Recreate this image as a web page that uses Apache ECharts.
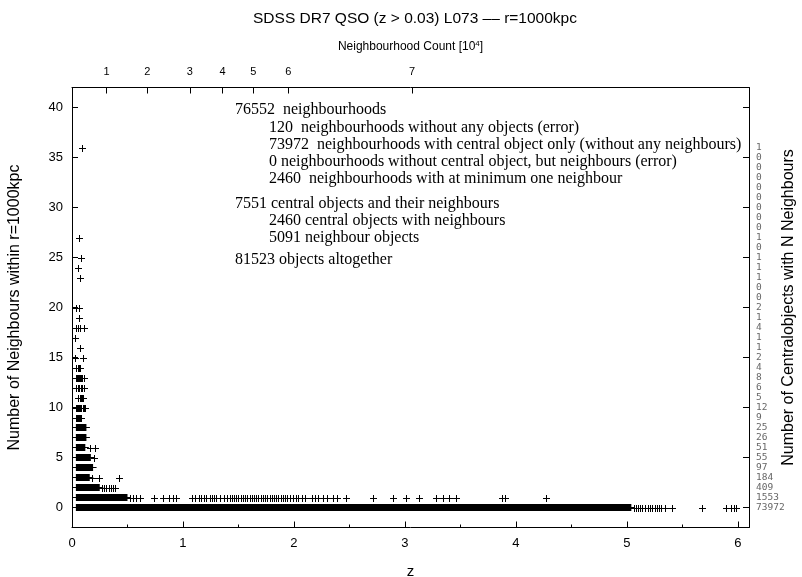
<!DOCTYPE html>
<html>
<head>
<meta charset="utf-8">
<script src="https://cdn.jsdelivr.net/npm/echarts@6/dist/echarts.min.js"></script>
<style>
  html, body { margin: 0; padding: 0; background: #fff; }
  #chart { width: 802px; height: 577px; }
</style>
</head>
<body>
<div id="chart"></div>
<script>
// Number of central objects having N neighbours, index = N
const levelCounts = [73972, 1553, 409, 184, 97, 55, 51, 26, 25, 9, 12, 5, 6, 8, 4, 2, 1, 1, 4, 1, 2, 0, 0, 1, 1, 1, 0, 1, 0, 0, 0, 0, 0, 0, 0, 0, 1];

// Redshift where the cumulative neighbourhood count reaches n * 10^4
const countTickZ = [0.312, 0.678, 1.062, 1.357, 1.633, 1.948, 3.064];
const countTickLabels = ['1', '2', '3', '4', '5', '6', '7'];

const zTicks = [0, 1, 2, 3, 4, 5, 6];
const zMinorTicks = [0.5, 1.5, 2.5, 3.5, 4.5, 5.5];
const nTicks = [0, 5, 10, 15, 20, 25, 30, 35, 40];

// Densely packed runs of objects: [N neighbours, z from, z to]
const denseRuns = [
  [0, 0.035, 5.04],
  [1, 0.035, 0.50],
  [2, 0.035, 0.25],
  [3, 0.035, 0.16],
  [4, 0.035, 0.19],
  [5, 0.035, 0.17],
  [6, 0.035, 0.12],
  [7, 0.035, 0.13],
  [8, 0.035, 0.13]
];

// Individually resolved objects: [z, N neighbours]
const objects = [
  // N = 0 tail
  [5.06, 0], [5.08, 0], [5.10, 0], [5.12, 0], [5.14, 0], [5.16, 0], [5.19, 0], [5.21, 0],
  [5.23, 0], [5.25, 0], [5.27, 0], [5.29, 0], [5.31, 0], [5.34, 0], [5.41, 0], [5.68, 0],
  [5.895, 0], [5.94, 0], [5.965, 0], [5.985, 0],
  // N = 1
  [0.52, 1], [0.55, 1], [0.58, 1], [0.61, 1], [0.74, 1], [0.82, 1], [0.87, 1], [0.91, 1], [0.94, 1],
  [1.08, 1], [1.11, 1], [1.14, 1], [1.16, 1], [1.19, 1], [1.21, 1], [1.24, 1], [1.26, 1],
  [1.28, 1], [1.30, 1], [1.33, 1], [1.37, 1], [1.40, 1], [1.42, 1], [1.44, 1], [1.46, 1],
  [1.48, 1], [1.50, 1], [1.52, 1], [1.54, 1], [1.56, 1], [1.58, 1], [1.60, 1], [1.62, 1],
  [1.64, 1], [1.66, 1], [1.68, 1], [1.70, 1], [1.72, 1], [1.74, 1], [1.76, 1], [1.78, 1],
  [1.80, 1], [1.82, 1], [1.84, 1], [1.86, 1], [1.88, 1], [1.90, 1], [1.92, 1], [1.94, 1],
  [1.96, 1], [1.99, 1], [2.02, 1], [2.04, 1], [2.07, 1], [2.10, 1], [2.16, 1], [2.19, 1],
  [2.22, 1], [2.26, 1], [2.30, 1], [2.35, 1], [2.39, 1], [2.47, 1], [2.71, 1], [2.89, 1],
  [3.01, 1], [3.13, 1], [3.28, 1], [3.34, 1], [3.40, 1], [3.46, 1], [3.87, 1], [3.90, 1], [4.27, 1],
  // N = 2..6
  [0.27, 2], [0.29, 2], [0.31, 2], [0.33, 2], [0.35, 2], [0.37, 2], [0.39, 2],
  [0.18, 3], [0.246, 3], [0.426, 3],
  [0.20, 5],
  [0.165, 6], [0.21, 6],
  // N = 9..20
  [0.035, 9], [0.04, 9], [0.045, 9], [0.05, 9], [0.055, 9], [0.06, 9], [0.065, 9], [0.075, 9], [0.085, 9],
  [0.04, 10], [0.045, 10], [0.05, 10], [0.055, 10], [0.06, 10], [0.065, 10], [0.07, 10], [0.075, 10],
  [0.085, 10], [0.095, 10], [0.105, 10], [0.12, 10],
  [0.05, 11], [0.07, 11], [0.08, 11], [0.09, 11], [0.10, 11],
  [0.04, 12], [0.05, 12], [0.065, 12], [0.08, 12], [0.09, 12], [0.105, 12],
  [0.035, 13], [0.045, 13], [0.05, 13], [0.06, 13], [0.07, 13], [0.08, 13], [0.09, 13], [0.105, 13],
  [0.04, 14], [0.05, 14], [0.06, 14], [0.07, 14],
  [0.03, 15], [0.10, 15],
  [0.072, 16],
  [0.03, 17],
  [0.04, 18], [0.055, 18], [0.075, 18], [0.105, 18],
  [0.066, 19],
  [0.035, 20], [0.06, 20],
  // N > 20
  [0.075, 23], [0.057, 24], [0.078, 25], [0.066, 27], [0.087, 36]
];

// Summary text block
const summaryLines = [
  { text: '76552  neighbourhoods', indent: 0, y: 110 },
  { text: '120  neighbourhoods without any objects (error)', indent: 1, y: 128 },
  { text: '73972  neighbourhoods with central object only (without any neighbours)', indent: 1, y: 145 },
  { text: '0 neighbourhoods without central object, but neighbours (error)', indent: 1, y: 162 },
  { text: '2460  neighbourhoods with at minimum one neighbour', indent: 1, y: 179 },
  { text: '7551 central objects and their neighbours', indent: 0, y: 204 },
  { text: '2460 central objects with neighbours', indent: 1, y: 221 },
  { text: '5091 neighbour objects', indent: 1, y: 238 },
  { text: '81523 objects altogether', indent: 0, y: 260 }
];

const SANS = '"Liberation Sans", Arial, Helvetica, sans-serif';
const SERIF = '"Liberation Serif", "Times New Roman", serif';
const MONO = '"DejaVu Sans Mono", "Liberation Mono", monospace';
const HALF = 3.5; // half size of a "+" marker

const chart = echarts.init(document.getElementById('chart'), null, { renderer: 'canvas' });

const frameLine = { show: true, onZero: false, lineStyle: { color: '#000', width: 1 } };

const textGraphics = summaryLines.map(l => ({
  type: 'text',
  x: l.indent ? 269 : 235,
  y: l.y,
  style: { text: l.text, fontFamily: SERIF, fontSize: 16, fill: '#000', verticalAlign: 'middle' }
}));
// Title of the right-hand count column
textGraphics.push({
  type: 'text',
  x: 789, y: 307.5, rotation: Math.PI / 2,
  style: {
    text: 'Number of Centralobjects with N Neighbours',
    fontFamily: SANS, fontSize: 16, fill: '#000', align: 'center', verticalAlign: 'middle'
  }
});

chart.setOption({
  animation: false,
  backgroundColor: '#fff',
  title: {
    text: 'SDSS DR7 QSO (z > 0.03) L073 –– r=1000kpc',
    left: 410, top: 6, textAlign: 'center',
    textStyle: { fontFamily: SANS, fontSize: 15.5, fontWeight: 'normal', color: '#000' }
  },
  grid: { left: 72, right: 53, top: 87.5, bottom: 49.5, outerBoundsMode: 'none', containLabel: false },
  xAxis: [
    {
      type: 'value', position: 'bottom', min: 0, max: 6.1,
      axisLine: frameLine, splitLine: { show: false },
      axisTick: { inside: true, length: 6, customValues: zTicks, lineStyle: { color: '#000' } },
      axisLabel: { customValues: zTicks, margin: 9, fontFamily: SANS, fontSize: 13, color: '#000' },
      name: 'z', nameLocation: 'middle', nameGap: 37,
      nameTextStyle: { fontFamily: SANS, fontSize: 15, color: '#000' }
    },
    {
      type: 'value', position: 'top', min: 0, max: 6.1,
      axisLine: frameLine, splitLine: { show: false },
      axisTick: { inside: true, length: 6, customValues: countTickZ, lineStyle: { color: '#000' } },
      axisLabel: {
        customValues: countTickZ, margin: 10, fontFamily: SANS, fontSize: 11, color: '#000',
        formatter: v => countTickLabels[countTickZ.indexOf(v)]
      },
      name: 'Neighbourhood Count [10{sup|4}]', nameLocation: 'middle', nameGap: 34,
      nameTextStyle: {
        fontFamily: SANS, fontSize: 12, color: '#000',
        rich: { sup: { fontFamily: SANS, fontSize: 8, verticalAlign: 'top', padding: [0, 0, 6, 0] } }
      }
    },
    {
      type: 'value', position: 'bottom', min: 0, max: 6.1,
      axisLine: { show: false, onZero: false }, splitLine: { show: false },
      axisTick: { inside: true, length: 3, customValues: zMinorTicks, lineStyle: { color: '#000' } },
      axisLabel: { show: false }
    }
  ],
  yAxis: [
    {
      type: 'value', position: 'left', min: -2, max: 42,
      axisLine: frameLine, splitLine: { show: false },
      axisTick: { inside: true, length: 6, customValues: nTicks, lineStyle: { color: '#000' } },
      axisLabel: { customValues: nTicks, margin: 9, fontFamily: SANS, fontSize: 13, color: '#000' },
      name: 'Number of Neighbours within r=1000kpc', nameLocation: 'middle', nameGap: 49, nameRotate: 90,
      nameTextStyle: { fontFamily: SANS, fontSize: 16, color: '#000' }
    },
    {
      type: 'value', position: 'right', min: -2, max: 42,
      axisLine: frameLine, splitLine: { show: false },
      axisTick: { inside: true, length: 6, customValues: nTicks, lineStyle: { color: '#000' } },
      axisLabel: {
        customValues: levelCounts.map((c, n) => n), margin: 7,
        fontFamily: MONO, fontSize: 9.5, color: '#666', align: 'left',
        formatter: v => String(levelCounts[v])
      }
    }
  ],
  series: [
    {
      type: 'custom', name: 'dense', xAxisIndex: 0, yAxisIndex: 0,
      data: denseRuns.map(r => [r[1], r[2], r[0]]),
      encode: { x: [0, 1], y: 2 },
      renderItem: (params, api) => {
        const a = api.coord([api.value(0), api.value(2)]);
        const b = api.coord([api.value(1), api.value(2)]);
        return {
          type: 'group',
          children: [
            { type: 'rect', shape: { x: a[0], y: a[1] - HALF, width: b[0] - a[0], height: 2 * HALF },
              style: { fill: '#000' } },
            { type: 'line', shape: { x1: a[0] - HALF, y1: a[1], x2: b[0] + HALF, y2: b[1] },
              style: { stroke: '#000', lineWidth: 1 } }
          ]
        };
      }
    },
    {
      type: 'custom', name: 'objects', xAxisIndex: 0, yAxisIndex: 0,
      data: objects,
      encode: { x: 0, y: 1 },
      renderItem: (params, api) => {
        const p = api.coord([api.value(0), api.value(1)]);
        const x = Math.round(p[0]) + 0.5, y = Math.round(p[1]) + 0.5;
        return {
          type: 'group',
          children: [
            { type: 'line', shape: { x1: x - HALF, y1: y, x2: x + HALF, y2: y }, style: { stroke: '#000', lineWidth: 1 } },
            { type: 'line', shape: { x1: x, y1: y - HALF, x2: x, y2: y + HALF }, style: { stroke: '#000', lineWidth: 1 } }
          ]
        };
      }
    }
  ],
  graphic: textGraphics
});
</script>
</body>
</html>
